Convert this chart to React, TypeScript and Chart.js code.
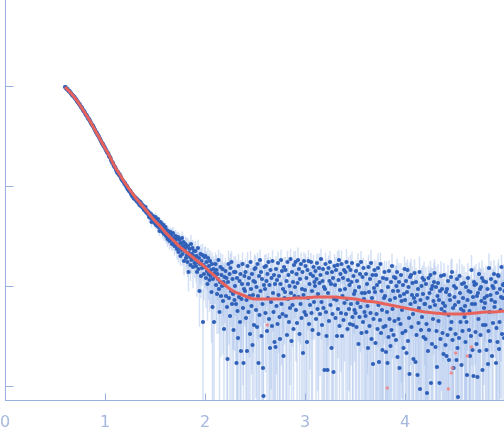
import React, { useEffect, useRef } from "react";
import { Chart, registerables } from "chart.js";

Chart.register(...registerables);

// q grid of the measured points
const qStart = 0.6;
const qStep = 0.005;

// log10(I) * 100 for each measured point, 20 points per 0.1 in q
const logI100: number[] = [
  -1,-1,-2,-3,-3,-3,-4,-5,-5,-5,-6,-7,-7,-8,-9,-9,-10,-10,-11,-11,
  -12,-13,-13,-14,-15,-16,-16,-17,-18,-18,-19,-20,-21,-21,-22,-23,-24,-25,-25,-26,
  -27,-28,-29,-29,-30,-31,-32,-33,-33,-34,-35,-36,-37,-38,-39,-39,-40,-41,-42,-43,
  -44,-45,-46,-47,-47,-49,-49,-50,-51,-52,-53,-54,-55,-56,-57,-58,-58,-60,-60,-61,
  -62,-63,-64,-65,-66,-67,-67,-68,-70,-71,-71,-72,-74,-75,-76,-77,-77,-79,-80,-81,
  -81,-82,-84,-84,-86,-87,-86,-88,-89,-88,-90,-90,-92,-93,-94,-94,-95,-96,-96,-98,
  -97,-99,-99,-101,-100,-103,-102,-104,-105,-104,-106,-105,-108,-107,-110,-108,-110,-112,-110,-113,
  -111,-113,-112,-115,-113,-116,-114,-117,-115,-119,-117,-116,-120,-118,-121,-119,-122,-120,-124,-122,
  -123,-121,-126,-124,-127,-125,-128,-126,-131,-127,-129,-132,-128,-136,-131,-133,-130,-134,-132,-137,
  -135,-131,-139,-134,-137,-140,-133,-141,-137,-145,-139,-136,-143,-140,-138,-146,-142,-139,-148,-144,
  -146,-141,-150,-144,-149,-153,-145,-151,-147,-155,-150,-146,-154,-149,-158,-152,-147,-157,-153,-160,
  -156,-150,-160,-153,-163,-158,-151,-166,-159,-154,-162,-170,-157,-164,-152,-168,-160,-156,-175,-163,
  -165,-158,-172,-161,-169,-176,-160,-186,-167,-163,-171,-179,-158,-174,-168,-162,-181,-170,-165,-177,
  -173,-165,-180,-170,-186,-176,-162,-183,-172,-205,-178,-168,-190,-175,-182,-169,-236,-179,-188,-171,
  -181,-170,-192,-176,-185,-198,-172,-188,-180,-194,-175,-190,-184,-206,-178,-221,-193,-183,-236,-187,
  -190,-178,-199,-184,-208,-188,-193,-174,-203,-226,-196,-181,-210,-189,-200,-183,-215,-196,-243,-191,
  -199,-185,-210,-192,-221,-273,-196,-178,-212,-188,-230,-182,-205,-176,-218,-193,-208,-244,-186,-214,
  -200,-186,-218,-277,-192,-225,-252,-180,-211,-195,-236,-188,-265,-213,-198,-178,-222,-277,-203,-190,
  -205,-186,-232,-214,-265,-180,-198,-226,-192,-210,-248,-176,-203,-220,-188,-259,-209,-195,-239,-183,
  -196,-182,-224,-201,-241,-178,-210,-277,-190,-229,-174,-205,-186,-250,-193,-218,-282,-310,-199,-181,
  -203,-227,-180,-195,-245,-188,-212,-176,-233,-199,-262,-184,-216,-192,-240,-175,-207,-226,-189,-256,
  -198,-261,-183,-220,-194,-238,-177,-209,-190,-231,-253,-198,-174,-218,-185,-228,-203,-270,-181,-212,
  -206,-184,-230,-195,-249,-176,-213,-189,-236,-200,-222,-173,-207,-255,-186,-219,-196,-243,-179,-210,
  -201,-176,-224,-188,-237,-197,-174,-211,-183,-248,-193,-218,-178,-232,-203,-186,-267,-209,-175,-226,
  -204,-180,-229,-192,-256,-184,-212,-175,-238,-198,-219,-188,-176,-227,-205,-244,-190,-181,-216,-196,
  -200,-185,-233,-193,-177,-223,-208,-248,-182,-197,-228,-189,-173,-216,-239,-195,-183,-222,-201,-284,
  -203,-178,-226,-250,-187,-284,-207,-182,-235,-195,-176,-219,-198,-262,-186,-228,-192,-286,-213,-180,
  -199,-232,-184,-214,-250,-179,-223,-194,-174,-240,-204,-188,-227,-178,-250,-210,-192,-234,-184,-217,
  -203,-186,-228,-176,-213,-243,-194,-181,-223,-199,-238,-184,-218,-196,-177,-231,-239,-190,-208,-224,
  -205,-227,-185,-241,-195,-217,-179,-258,-201,-231,-188,-221,-176,-247,-207,-191,-236,-182,-213,-226,
  -207,-230,-188,-246,-198,-220,-262,-181,-206,-240,-193,-227,-177,-253,-212,-189,-278,-233,-202,-184,
  -206,-257,-189,-228,-199,-243,-182,-219,-276,-196,-234,-178,-247,-205,-224,-264,-192,-241,-212,-186,
  -210,-240,-266,-193,-226,-277,-201,-251,-185,-233,-214,-260,-196,-244,-180,-223,-205,-249,-191,-235,
  -212,-192,-254,-200,-186,-271,-205,-233,-196,-282,-210,-238,-189,-215,-224,-247,-199,-262,-208,-183,
  -214,-245,-195,-267,-206,-184,-255,-201,-232,-288,-191,-218,-189,-241,-209,-197,-228,-273,-212,-187,
  -216,-276,-196,-249,-209,-289,-203,-237,-222,-186,-303,-214,-244,-200,-231,-192,-208,-251,-194,-218,
  -218,-253,-198,-238,-307,-212,-265,-192,-244,-207,-221,-189,-297,-203,-258,-200,-233,-215,-196,-187,
  -219,-261,-201,-245,-281,-210,-197,-235,-214,-297,-205,-253,-190,-223,-203,-247,-217,-268,-189,-226,
  -220,-259,-206,-270,-203,-249,-195,-229,-274,-209,-214,-243,-191,-236,-186,-254,-222,-282,-200,-211,
  -219,-248,-202,-274,-193,-262,-311,-216,-252,-190,-207,-236,-223,-279,-198,-245,-212,-225,-197,-231,
  -220,-256,-201,-236,-289,-214,-192,-205,-244,-225,-270,-206,-250,-184,-218,-264,-211,-290,-196,-199,
  -218,-246,-198,-258,-210,-291,-207,-233,-188,-265,-203,-249,-201,-215,-192,-284,-239,-195,-222,-212,
  -217,-239,-196,-264,-210,-203,-278,-245,-182,-226,-255,-209,-193,-214,-270,-200,-237,-202,-188,-221,
  -216,-196,-277,-242,-207,-256,-189,-190,-263,-236,-203,-224,-211,-181,-248,-212,-199,-198,-252,-205,
];

// error (sigma) of I for each point, in units of 0.001
const sigma1000: number[] = [
  3,3,4,3,3,4,3,3,3,4,3,3,4,3,3,3,4,3,3,4,
  3,4,3,3,4,3,3,3,4,3,3,4,3,3,4,3,3,3,4,3,
  3,3,4,3,3,4,3,4,3,3,4,3,3,3,4,3,3,4,3,3,
  4,3,3,4,3,3,3,4,3,3,4,3,4,3,3,3,4,3,3,4,
  3,4,3,3,4,4,3,3,4,3,3,4,3,4,3,3,4,3,4,3,
  4,3,4,3,3,4,4,3,4,3,4,3,3,4,4,3,4,3,4,4,
  4,4,3,4,4,3,4,4,4,3,4,4,3,4,4,4,3,4,4,4,
  4,3,4,4,4,4,3,4,4,4,4,4,3,4,4,4,4,3,4,4,
  4,4,4,5,4,4,4,4,5,4,4,4,4,5,4,4,4,5,4,4,
  4,5,4,4,5,4,4,5,4,4,5,4,4,5,4,5,4,4,5,4,
  5,4,5,4,5,5,4,5,4,5,5,4,5,5,4,5,5,4,5,5,
  5,5,4,5,5,5,4,5,5,5,5,4,5,5,5,5,4,5,5,5,
  5,5,5,6,5,5,5,5,6,5,5,5,6,5,5,5,6,5,5,5,
  5,6,5,5,6,5,5,6,5,5,6,5,5,6,5,6,5,5,6,5,
  6,5,6,5,5,6,5,6,5,6,5,6,5,6,5,6,6,5,6,5,
  6,5,6,6,5,6,6,5,6,6,5,6,6,5,6,6,5,6,6,5,
  6,5,6,5,6,5,5,6,5,6,5,6,5,5,6,5,6,5,6,5,
  5,6,5,5,6,5,6,5,5,6,5,5,6,5,6,5,5,6,5,5,
  5,5,6,5,5,6,5,5,5,6,5,5,6,5,5,5,6,5,5,6,
  5,5,5,6,5,5,5,5,6,5,5,5,5,6,5,5,5,5,6,5,
  5,4,5,5,5,6,5,4,5,5,5,5,6,5,4,5,5,5,5,6,
  5,4,5,5,4,5,5,6,4,5,5,4,5,5,4,5,6,5,4,5,
  4,5,5,4,5,5,4,5,6,4,5,5,4,5,5,4,5,5,6,4,
  5,5,4,5,5,4,6,5,4,5,5,4,5,5,4,5,5,6,4,5,
  4,5,5,4,6,5,4,5,5,4,5,5,4,5,6,4,5,5,4,5,
  5,4,5,5,4,5,5,4,6,5,4,5,5,4,5,5,4,6,5,4,
  5,5,4,5,5,4,6,5,4,5,5,4,5,5,4,6,5,4,5,5,
  4,5,5,4,5,6,4,5,5,4,5,5,4,6,5,4,5,5,4,5,
  5,4,5,6,4,5,5,4,5,5,4,6,5,4,5,5,4,5,5,4,
  5,5,4,5,5,4,5,6,4,5,5,4,5,5,4,6,5,4,5,5,
  4,5,5,4,6,5,4,5,5,4,5,5,6,4,5,5,4,5,5,4,
  5,4,5,5,4,5,6,4,5,5,4,5,5,4,6,5,4,5,5,4,
  5,5,4,6,5,4,5,5,4,5,5,6,4,5,5,4,5,5,4,6,
  5,4,5,6,5,4,5,5,6,4,5,5,4,6,5,5,4,5,6,5,
  4,5,6,5,5,4,5,6,5,4,5,5,6,4,5,5,6,5,4,5,
  5,6,4,5,5,6,4,5,5,6,5,4,5,5,6,4,5,5,6,5,
  6,5,5,4,6,5,5,4,5,6,5,5,4,6,5,5,4,5,6,5,
  5,4,6,5,5,4,6,5,5,4,5,6,5,5,4,6,5,5,4,5,
  4,5,5,6,4,5,5,6,5,4,5,5,6,4,5,5,6,5,4,5,
  5,6,5,4,5,6,5,5,4,6,5,5,4,5,6,5,5,4,5,6,
  6,5,4,5,6,5,5,4,6,5,5,4,5,6,5,5,4,6,5,5,
  5,5,6,4,5,5,6,5,4,5,6,5,5,4,6,5,5,4,5,6,
  4,6,5,5,4,6,5,5,6,4,5,5,6,5,4,5,6,5,5,4,
  5,5,4,6,5,5,4,6,5,5,4,5,6,5,5,4,5,6,5,5,
];

// flagged points (drawn pink)
const flaggedQ: number[] = [2.623, 3.823, 4.433, 4.463, 4.473, 4.507, 4.623, 4.663];
const flaggedLogI: number[] = [-2.39, -3.02, -3.03, -2.87, -2.82, -2.67, -2.70, -2.61];

// fitted model curve
const fitQ: number[] = [
  0.60,0.65,0.70,0.75,0.80,0.85,0.90,0.95,1.00,1.05,1.10,1.15,1.20,1.25,1.30,1.35,1.40,1.45,1.50,1.55,
  1.60,1.65,1.70,1.75,1.80,1.85,1.90,1.95,2.00,2.05,2.10,2.15,2.20,2.25,2.30,2.35,2.40,2.45,2.50,
  2.60,2.70,2.80,2.90,3.00,3.10,3.20,3.30,3.40,3.50,3.60,3.70,3.80,3.90,4.00,4.10,4.20,4.30,4.40,4.50,
  4.60,4.70,4.80,4.90,4.99,
];
const fitLogI: number[] = [
  -0.01,-0.06,-0.12,-0.19,-0.27,-0.35,-0.44,-0.53,-0.62,-0.71,-0.81,-0.89,-0.97,-1.04,-1.11,-1.17,-1.23,-1.29,-1.35,-1.40,
  -1.46,-1.51,-1.56,-1.61,-1.65,-1.69,-1.73,-1.77,-1.81,-1.86,-1.90,-1.95,-1.99,-2.03,-2.06,-2.08,-2.10,-2.12,-2.13,
  -2.13,-2.13,-2.13,-2.12,-2.12,-2.11,-2.11,-2.11,-2.12,-2.13,-2.15,-2.16,-2.18,-2.20,-2.22,-2.24,-2.26,-2.27,-2.28,-2.28,
  -2.28,-2.27,-2.26,-2.26,-2.25,
];

const xTicks: number[] = [0, 1, 2, 3, 4];
const xTickLabels: string[] = ["0", "1", "2", "3", "4"];
const yTicks: number[] = [-3, -2, -1, 0];

const AXIS = "#9ab1dd";
const LABEL = "#a5b8de";

export default function App() {
  const ref = useRef<HTMLCanvasElement | null>(null);

  useEffect(() => {
    const canvas = ref.current;
    if (!canvas) return;

    const points = logI100.map((v, i) => ({ x: qStart + qStep * i, y: v / 100 }));
    const flagged = flaggedQ.map((q, i) => ({ x: q, y: flaggedLogI[i] }));
    const fit = fitQ.map((q, i) => ({ x: q, y: fitLogI[i] }));

    const errorBars = {
      id: "errorBars",
      beforeDatasetsDraw(chart: any) {
        const { ctx, chartArea, scales } = chart;
        const xs = scales.x;
        const ys = scales.y;
        ctx.save();
        ctx.beginPath();
        ctx.rect(chartArea.left, chartArea.top, chartArea.right - chartArea.left, chartArea.bottom - chartArea.top);
        ctx.clip();
        ctx.strokeStyle = "rgba(160,186,232,0.45)";
        ctx.lineWidth = 1.5;
        for (let i = 0; i < logI100.length; i++) {
          const I = Math.pow(10, logI100[i] / 100);
          const s = sigma1000[i] / 1000;
          const top = Math.log10(I + s);
          const bot = I - s > 0 ? Math.log10(I - s) : ys.min - 1;
          const px = xs.getPixelForValue(qStart + qStep * i);
          ctx.beginPath();
          ctx.moveTo(px, ys.getPixelForValue(top));
          ctx.lineTo(px, ys.getPixelForValue(bot));
          ctx.stroke();
        }
        ctx.restore();
      },
    };

    const axes = {
      id: "axes",
      afterDraw(chart: any) {
        const { ctx, chartArea, scales } = chart;
        const left = Math.round(chartArea.left) + 0.5;
        const bottom = Math.round(chartArea.bottom) + 0.5;
        ctx.save();
        ctx.strokeStyle = AXIS;
        ctx.lineWidth = 1;
        ctx.beginPath();
        ctx.moveTo(left, chartArea.top);
        ctx.lineTo(left, bottom);
        ctx.moveTo(chartArea.left, bottom);
        ctx.lineTo(chartArea.right, bottom);
        for (const v of yTicks) {
          const py = Math.round(scales.y.getPixelForValue(v)) + 0.5;
          ctx.moveTo(left, py);
          ctx.lineTo(left + 8, py);
        }
        for (const v of xTicks) {
          const px = Math.round(scales.x.getPixelForValue(v)) + 0.5;
          ctx.moveTo(px, bottom);
          ctx.lineTo(px, bottom - 7);
        }
        ctx.stroke();
        ctx.fillStyle = LABEL;
        ctx.font = "16px 'DejaVu Sans'";
        ctx.textAlign = "center";
        ctx.textBaseline = "alphabetic";
        xTicks.forEach((v, i) => {
          const px = scales.x.getPixelForValue(v);
          ctx.fillText(xTickLabels[i], px, bottom + 26.5);
        });
        ctx.restore();
      },
    };

    const chart = new Chart(canvas, {
      type: "scatter",
      data: {
        datasets: [
          {
            type: "line",
            data: fit,
            borderColor: "#e8625c",
            borderWidth: 3,
            pointRadius: 0,
            tension: 0.3,
            fill: false,
            order: 0,
          } as any,
          {
            data: flagged,
            backgroundColor: "rgba(242,128,128,0.8)",
            pointRadius: 1.8,
            borderWidth: 0,
            order: 1,
          },
          {
            data: points,
            backgroundColor: "#3061b9",
            pointRadius: 2.1,
            borderWidth: 0,
            order: 2,
          },
        ],
      },
      options: {
        animation: false,
        responsive: false,
        events: [],
        layout: { autoPadding: false, padding: { left: 5, right: 0, top: 0, bottom: 38 } },
        plugins: { legend: { display: false }, tooltip: { enabled: false } },
        scales: {
          x: { type: "linear", display: false, min: 0, max: 4.99 },
          y: { type: "linear", display: false, min: -3.14, max: 0.86 },
        },
      } as any,
      plugins: [errorBars, axes],
    });

    return () => chart.destroy();
  }, []);

  return (
    <div style={{ position: "absolute", left: 0, top: 0, width: 504, height: 438, background: "#fff" }}>
      <canvas ref={ref} width={504} height={438} style={{ display: "block" }} />
    </div>
  );
}
